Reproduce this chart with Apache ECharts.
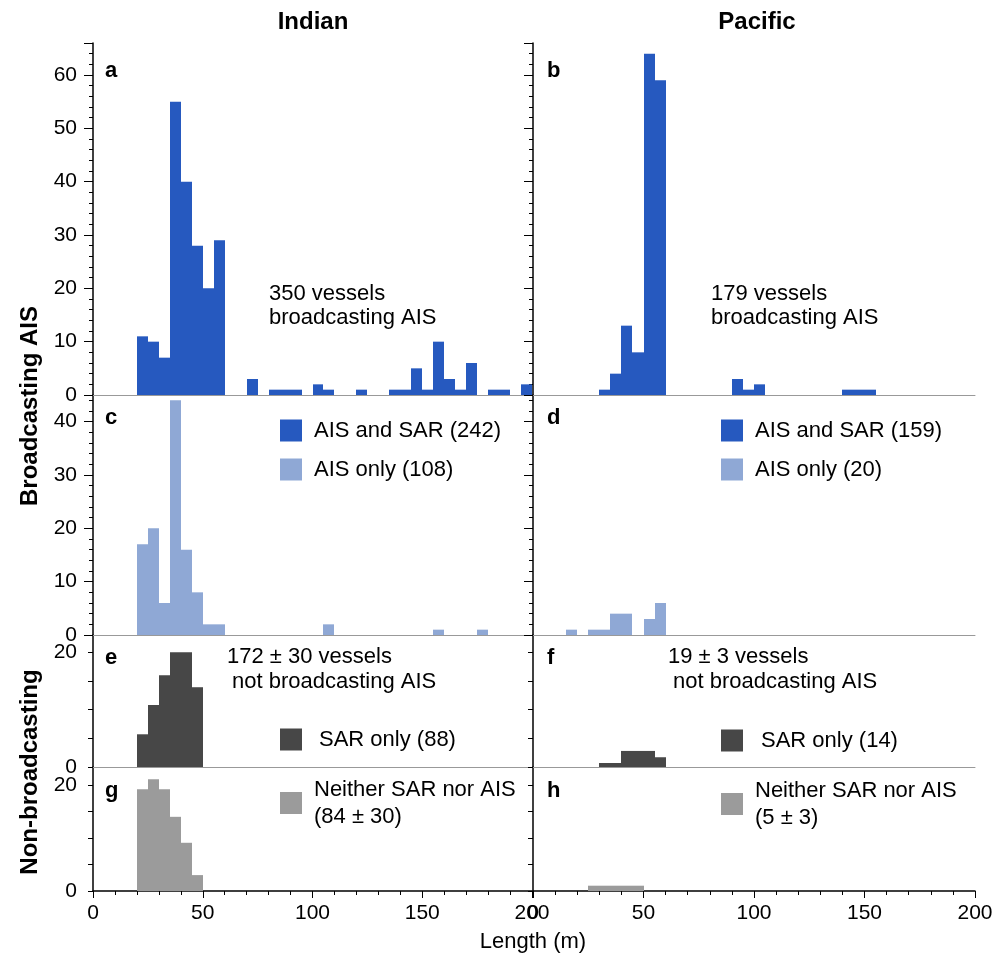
<!DOCTYPE html>
<html>
<head>
<meta charset="utf-8">
<script src="https://cdn.jsdelivr.net/npm/echarts@6/dist/echarts.min.js"></script>
<style>
html, body { margin: 0; padding: 0; background: #fff; }
#chart { width: 999px; height: 959px; }
</style>
</head>
<body>
<div id="chart"></div>
<script>
// histogram bins are 5 m wide, listed by their left edge
var BIN = 5;

var indianAisSarBins = [20, 25, 30, 35, 40, 45, 50, 55, 70, 80, 85, 90, 100, 105, 120, 135, 140, 145, 150, 155, 160, 165, 170, 180, 185, 195];
var indianAisSarCounts = [11, 10, 7, 55, 40, 28, 20, 29, 3, 1, 1, 1, 2, 1, 1, 1, 1, 5, 1, 10, 3, 1, 6, 1, 1, 2];

var pacificAisSarBins = [30, 35, 40, 45, 50, 55, 90, 95, 100, 140, 145, 150];
var pacificAisSarCounts = [1, 4, 13, 8, 64, 59, 3, 1, 2, 1, 1, 1];

var indianAisOnlyBins = [20, 25, 30, 35, 40, 45, 50, 55, 105, 155, 175];
var indianAisOnlyCounts = [17, 20, 6, 44, 16, 8, 2, 2, 2, 1, 1];

var pacificAisOnlyBins = [15, 25, 30, 35, 40, 50, 55];
var pacificAisOnlyCounts = [1, 1, 1, 4, 4, 3, 6];

var indianSarOnlyBins = [20, 25, 30, 35, 40, 45];
var indianSarOnlyCounts = [5.7, 10.8, 16, 20, 20, 13.9];

var pacificSarOnlyBins = [30, 35, 40, 45, 50, 55];
var pacificSarOnlyCounts = [0.7, 0.7, 2.8, 2.8, 2.8, 1.7];

var indianNeitherBins = [20, 25, 30, 35, 40, 45];
var indianNeitherCounts = [19.2, 21.1, 19.2, 14, 9.1, 3];

var pacificNeitherBins = [25, 30, 35, 40, 45];
var pacificNeitherCounts = [1, 1, 1, 1, 1];

var xTicks = [0, 50, 100, 150, 200];

var DARK_BLUE = '#2659bf';
var LIGHT_BLUE = '#8fa8d5';
var DARK_GRAY = '#474747';
var LIGHT_GRAY = '#9b9b9b';
var FONT = 'Liberation Sans';

var cols = [
    { left: 93, width: 439 },
    { left: 533, width: 442 }
];
var rows = [
    { top: 43, height: 352, max: 66, interval: 10, minor: 5, labelStep: 10 },
    { top: 395, height: 240, max: 45, interval: 10, minor: 5, labelStep: 10 },
    { top: 635, height: 132, max: 23, interval: 5, minor: 0, labelStep: 20 },
    { top: 767, height: 124, max: 23.4, interval: 5, minor: 0, labelStep: 20 }
];

var panels = [
    { row: 0, col: 0, name: 'AIS and SAR (242)', bins: indianAisSarBins, counts: indianAisSarCounts, color: DARK_BLUE },
    { row: 0, col: 1, name: 'AIS and SAR (159)', bins: pacificAisSarBins, counts: pacificAisSarCounts, color: DARK_BLUE },
    { row: 1, col: 0, name: 'AIS only (108)', bins: indianAisOnlyBins, counts: indianAisOnlyCounts, color: LIGHT_BLUE },
    { row: 1, col: 1, name: 'AIS only (20)', bins: pacificAisOnlyBins, counts: pacificAisOnlyCounts, color: LIGHT_BLUE },
    { row: 2, col: 0, name: 'SAR only (88)', bins: indianSarOnlyBins, counts: indianSarOnlyCounts, color: DARK_GRAY },
    { row: 2, col: 1, name: 'SAR only (14)', bins: pacificSarOnlyBins, counts: pacificSarOnlyCounts, color: DARK_GRAY },
    { row: 3, col: 0, name: 'Neither SAR nor AIS\n(84 ± 30)', bins: indianNeitherBins, counts: indianNeitherCounts, color: LIGHT_GRAY },
    { row: 3, col: 1, name: 'Neither SAR nor AIS\n(5 ± 3)', bins: pacificNeitherBins, counts: pacificNeitherCounts, color: LIGHT_GRAY }
];

function renderBin(params, api) {
    var start = api.value(0);
    var count = api.value(1);
    var lo = api.coord([start, 0]);
    var hi = api.coord([start + BIN, count]);
    // snap the sides to whole pixels so neighbouring bins join without seams
    var x0 = Math.round(lo[0]), x1 = Math.round(hi[0]);
    return {
        type: 'rect',
        shape: { x: x0, y: hi[1], width: x1 - x0, height: lo[1] - hi[1] },
        style: { fill: api.visual('color') }
    };
}

var grids = [], xAxes = [], yAxes = [], series = [];
panels.forEach(function (p, i) {
    var r = rows[p.row], c = cols[p.col];
    var bottomRow = p.row === 3;
    grids.push({ left: c.left, top: r.top, width: c.width, height: r.height });
    xAxes.push({
        gridIndex: i,
        type: 'value',
        min: 0,
        max: 200,
        interval: 50,
        splitLine: { show: false },
        axisLine: { lineStyle: { color: bottomRow ? '#000' : '#999', width: bottomRow ? 1.5 : 1 } },
        axisTick: { show: bottomRow, length: 7, lineStyle: { color: '#000' } },
        minorTick: { show: bottomRow, splitNumber: 5, length: 4, lineStyle: { color: '#000' } },
        axisLabel: {
            show: bottomRow,
            showMinLabel: true,
            showMaxLabel: true,
            margin: 12,
            fontFamily: FONT,
            fontSize: 21,
            color: '#000',
            customValues: xTicks
        }
    });
    yAxes.push({
        gridIndex: i,
        type: 'value',
        min: 0,
        max: r.max,
        interval: r.interval,
        splitLine: { show: false },
        axisLine: { show: true, lineStyle: { color: '#000', width: 1.5 } },
        axisTick: { show: true, length: r.minor ? 9 : 5, lineStyle: { color: '#000' } },
        minorTick: { show: r.minor > 0, splitNumber: r.minor || 5, length: 4, lineStyle: { color: '#000' } },
        axisLabel: {
            show: p.col === 0,
            margin: 16,
            fontFamily: FONT,
            fontSize: 21,
            color: '#000',
            showMaxLabel: false,
            formatter: function (v) { return v % r.labelStep === 0 ? String(v) : ''; }
        }
    });
    series.push({
        type: 'custom',
        name: p.name,
        xAxisIndex: i,
        yAxisIndex: i,
        itemStyle: { color: p.color },
        renderItem: renderBin,
        encode: { x: 0, y: 1 },
        data: p.bins.map(function (b, k) { return [b, p.counts[k]]; })
    });
});

function legendFor(names, left, top, gap, pad) {
    return {
        orient: 'vertical',
        left: left,
        top: top,
        icon: 'rect',
        itemWidth: 22,
        itemHeight: 22,
        itemGap: gap,
        padding: 0,
        selectedMode: false,
        data: names,
        textStyle: { fontFamily: FONT, fontSize: 22, color: '#000', padding: [0, 0, 0, pad], lineHeight: 27 }
    };
}

var legends = [
    legendFor(['AIS and SAR (242)', 'AIS only (108)'], 280, 417, 12, 7),
    legendFor(['AIS and SAR (159)', 'AIS only (20)'], 721, 417, 12, 7),
    legendFor(['SAR only (88)'], 280, 726, 0, 12),
    legendFor(['SAR only (14)'], 721, 727, 0, 13),
    legendFor(['Neither SAR nor AIS\n(84 ± 30)'], 280, 776, 0, 7),
    legendFor(['Neither SAR nor AIS\n(5 ± 3)'], 721, 777, 0, 7)
];

function label(text, x, y, opts) {
    opts = opts || {};
    return {
        type: 'text',
        x: x,
        y: y,
        rotation: opts.rotation || 0,
        style: {
            text: text,
            fontFamily: FONT,
            fontSize: opts.size || 22,
            fontWeight: opts.bold ? 'bold' : 'normal',
            fill: '#000',
            textAlign: opts.align || 'left',
            textVerticalAlign: 'middle'
        }
    };
}

var texts = [
    label('Indian', 313, 22, { bold: true, size: 24, align: 'center' }),
    label('Pacific', 757, 22, { bold: true, size: 24, align: 'center' }),
    label('Broadcasting AIS', 30, 406, { bold: true, size: 24, align: 'center', rotation: Math.PI / 2 }),
    label('Non-broadcasting', 30, 772, { bold: true, size: 24, align: 'center', rotation: Math.PI / 2 }),
    label('a', 105, 71, { bold: true }),
    label('b', 547, 71, { bold: true }),
    label('c', 105, 418, { bold: true }),
    label('d', 547, 418, { bold: true }),
    label('e', 105, 658, { bold: true }),
    label('f', 547, 658, { bold: true }),
    label('g', 105, 791, { bold: true }),
    label('h', 547, 791, { bold: true }),
    label('350 vessels', 269, 294),
    label('broadcasting AIS', 269, 318),
    label('179 vessels', 711, 294),
    label('broadcasting AIS', 711, 318),
    label('172 ± 30 vessels', 227, 657),
    label('not broadcasting AIS', 232, 682),
    label('19 ± 3 vessels', 668, 657),
    label('not broadcasting AIS', 673, 682),
    label('Length (m)', 533, 942, { align: 'center' })
];

var chart = echarts.init(document.getElementById('chart'));
chart.setOption({
    animation: false,
    backgroundColor: '#fff',
    grid: grids,
    xAxis: xAxes,
    yAxis: yAxes,
    legend: legends,
    series: series,
    graphic: texts
});
</script>
</body>
</html>
